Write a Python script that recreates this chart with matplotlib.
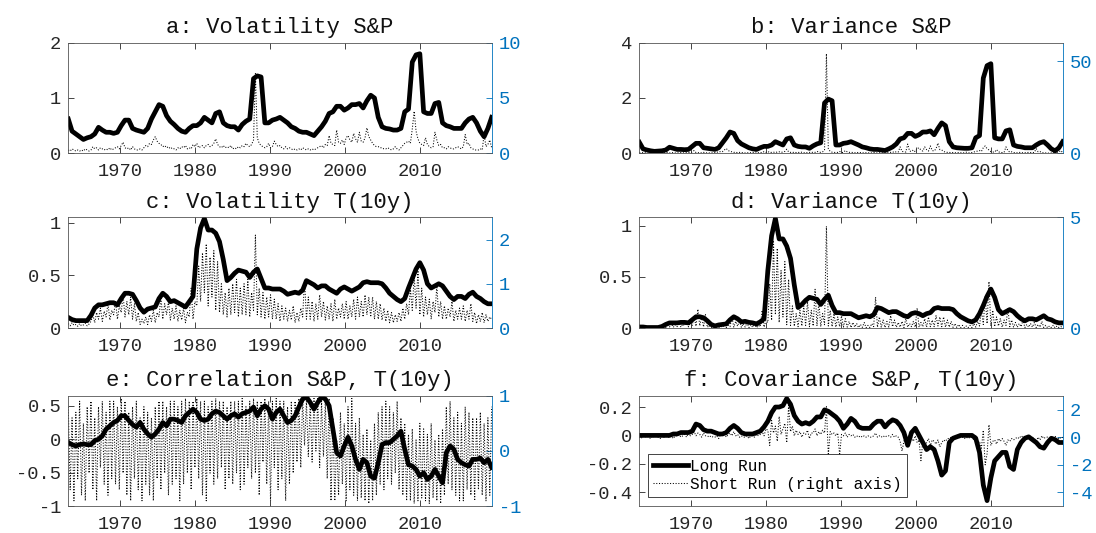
import numpy as np
import matplotlib
matplotlib.use('Agg')
import matplotlib.pyplot as plt
from matplotlib.ticker import FuncFormatter

plt.rcParams['font.family'] = ['Liberation Mono', 'DejaVu Sans Mono']
plt.rcParams['axes.unicode_minus'] = False

# sample range (years)
t_start, t_end = 1963.1, 2019.6

# ---- a: Volatility S&P (long run: 2 per year, short run: 4 per year) ----
a_long = [
    0.62, 0.40, 0.35, 0.30, 0.25, 0.28, 0.30, 0.35, 0.47, 0.42, 0.38, 0.38, 0.36, 0.38,
    0.50, 0.60, 0.60, 0.45, 0.42, 0.40, 0.38, 0.45, 0.62, 0.75, 0.88, 0.85, 0.68, 0.58,
    0.52, 0.45, 0.40, 0.38, 0.45, 0.50,
    0.50, 0.55, 0.65, 0.60, 0.55, 0.72, 0.75, 0.55, 0.50, 0.48, 0.48, 0.42, 0.52, 0.58,
    0.62, 1.35, 1.40, 1.38, 0.55, 0.55,
    0.60, 0.62, 0.65, 0.60, 0.55, 0.48, 0.45, 0.40, 0.38, 0.38, 0.35, 0.32, 0.40, 0.48,
    0.58, 0.72, 0.75, 0.85, 0.85, 0.78,
    0.82, 0.88, 0.88, 0.90, 0.82, 0.95, 1.05, 1.00, 0.65, 0.48, 0.45, 0.44, 0.42, 0.42,
    0.45, 0.75, 0.80, 1.65, 1.78, 1.80,
    0.75, 0.72, 0.72, 0.90, 0.92, 0.55, 0.50, 0.48, 0.45, 0.45, 0.45, 0.55, 0.62, 0.65,
    0.55, 0.40, 0.30, 0.45, 0.65,
]
a_short = [
    0.3, 0.2, 0.4, 0.3, 0.2, 0.3, 0.2, 0.3, 0.2, 0.4, 0.3, 0.2, 0.3, 0.6, 0.4, 0.5,
    0.3, 0.5, 0.4, 0.3, 0.4, 0.3, 0.5, 0.3, 0.4, 0.5, 0.6, 0.4,
    0.7, 1.0, 0.5, 0.4, 0.5, 0.3, 0.6, 0.4, 0.3, 0.3, 0.4, 0.3, 0.5, 0.7, 0.6, 0.9,
    0.8, 1.2, 1.5, 1.1, 0.9, 0.8, 0.6, 0.7, 0.5, 0.6, 0.4, 0.5, 0.4, 0.3, 0.5, 0.4,
    0.6, 0.5, 0.7, 0.4, 0.5, 0.4, 0.8, 0.6,
    0.9, 0.5, 0.6, 0.7, 0.5, 0.7, 0.8, 0.6, 0.7, 0.9, 1.3, 0.8, 0.6, 0.5, 0.7, 0.5,
    0.6, 0.5, 0.7, 0.4, 0.5, 0.4, 0.6, 0.5, 0.7, 0.6, 0.9, 0.7, 0.6, 0.8, 1.2, 7.2,
    1.4, 0.9, 0.7, 0.6, 0.5, 0.6, 0.9, 0.5,
    0.6, 1.1, 0.8, 0.6, 0.7, 0.5, 0.4, 0.6, 0.4, 0.5, 0.4, 0.3, 0.4, 0.3, 0.4, 0.3,
    0.5, 0.4, 0.3, 0.4, 0.3, 0.4, 0.3, 0.4, 0.5, 0.6, 0.7, 0.5, 0.8, 0.7, 1.6, 0.9,
    0.8, 0.7, 2.1, 1.0, 0.9, 1.2, 0.8, 1.4,
    1.6, 1.2, 1.0, 1.8, 1.3, 1.0, 1.9, 1.1, 1.0, 1.4, 2.3, 1.5, 1.2, 0.9, 0.7, 0.6,
    0.6, 0.5, 0.5, 0.4, 0.4, 0.5, 0.4, 0.3, 0.4, 0.6, 0.4, 0.3, 0.5, 0.7, 0.9, 1.0,
    1.1, 0.9, 2.2, 3.8, 2.0, 1.3, 0.9, 0.8,
    0.7, 1.4, 0.8, 0.6, 0.5, 0.6, 1.9, 1.2, 0.7, 0.8, 0.5, 0.5, 0.4, 0.6, 0.5, 0.4,
    0.4, 0.5, 0.6, 0.5, 0.4, 0.6, 1.7, 0.8, 0.9, 0.5, 0.4, 0.3, 0.3, 0.3, 0.4, 0.3,
    1.7, 0.6, 0.8, 1.2, 0.5,
]

# ---- b: Variance S&P ----
b_long = [
    0.40, 0.16, 0.12, 0.09, 0.07, 0.08, 0.09, 0.12, 0.22, 0.18, 0.14, 0.14, 0.13, 0.14,
    0.25, 0.36, 0.36, 0.20, 0.18, 0.16, 0.14, 0.20, 0.38, 0.56, 0.77, 0.72, 0.46, 0.34,
    0.27, 0.20, 0.16, 0.14, 0.20, 0.25,
    0.25, 0.30, 0.42, 0.36, 0.30, 0.52, 0.56, 0.30, 0.25, 0.23, 0.23, 0.18, 0.27, 0.34,
    0.38, 1.82, 1.96, 1.90, 0.30, 0.30,
    0.36, 0.38, 0.42, 0.36, 0.30, 0.23, 0.20, 0.16, 0.14, 0.14, 0.12, 0.10, 0.16, 0.23,
    0.34, 0.52, 0.56, 0.72, 0.72, 0.61,
    0.67, 0.77, 0.77, 0.81, 0.67, 0.90, 1.10, 1.00, 0.42, 0.23, 0.20, 0.19, 0.18, 0.18,
    0.20, 0.56, 0.64, 2.72, 3.17, 3.24,
    0.56, 0.52, 0.52, 0.81, 0.85, 0.30, 0.25, 0.23, 0.20, 0.20, 0.20, 0.30, 0.38, 0.42,
    0.30, 0.16, 0.09, 0.20, 0.42,
]
b_short = [
    0.3, 0.2, 0.4, 0.3, 0.2, 0.2, 0.1, 0.2, 0.1, 0.2, 0.2, 0.1, 0.2, 0.6, 0.3, 0.4,
    0.2, 0.4, 0.3, 0.2, 0.3, 0.2, 0.4, 0.2, 0.3, 0.4, 0.5, 0.3,
    0.7, 1.5, 0.4, 0.3, 0.4, 0.2, 0.5, 0.3, 0.2, 0.2, 0.3, 0.2, 0.4, 0.7, 0.5, 1.0,
    0.9, 1.8, 2.6, 1.5, 1.0, 0.8, 0.5, 0.6, 0.3, 0.5, 0.3, 0.4, 0.2, 0.2, 0.4, 0.3,
    0.5, 0.4, 0.8, 0.3, 0.4, 0.3, 0.9, 0.5,
    1.0, 0.4, 0.5, 0.6, 0.4, 0.7, 0.8, 0.5, 0.7, 1.0, 2.2, 0.8, 0.5, 0.4, 0.6, 0.4,
    0.5, 0.4, 0.6, 0.3, 0.4, 0.3, 0.5, 0.4, 0.6, 0.5, 1.0, 0.7, 0.5, 0.8, 1.8, 54.0,
    2.5, 1.0, 0.6, 0.5, 0.4, 0.5, 1.0, 0.4,
    0.5, 1.5, 0.8, 0.5, 0.6, 0.4, 0.3, 0.5, 0.3, 0.4, 0.3, 0.2, 0.3, 0.2, 0.3, 0.2,
    0.4, 0.3, 0.2, 0.3, 0.2, 0.3, 0.2, 0.3, 0.4, 0.5, 0.8, 0.4, 0.9, 0.7, 3.5, 1.0,
    0.8, 0.7, 5.0, 1.2, 1.0, 1.8, 0.8, 2.5,
    3.0, 1.8, 1.2, 3.5, 2.0, 1.2, 4.0, 1.5, 1.2, 2.5, 5.5, 2.0, 1.8, 1.0, 0.6, 0.5,
    0.5, 0.3, 0.4, 0.3, 0.3, 0.4, 0.3, 0.2, 0.3, 0.6, 0.3, 0.2, 0.4, 0.7, 1.0, 1.2,
    1.5, 1.0, 3.0, 4.0, 2.5, 1.8, 0.9, 0.7,
    0.6, 2.0, 0.8, 0.5, 0.4, 0.5, 3.5, 1.5, 0.6, 0.8, 0.4, 0.3, 0.3, 0.5, 0.3, 0.3,
    0.3, 0.4, 0.5, 0.4, 0.3, 0.5, 2.5, 0.8, 0.9, 0.4, 0.2, 0.2, 0.1, 0.1, 0.2, 0.2,
    2.5, 0.5, 0.8, 1.5, 0.4,
]

# ---- c: Volatility T(10y) ----
c_long = [
    0.10, 0.08, 0.07, 0.07, 0.07, 0.07, 0.12, 0.19, 0.22, 0.22, 0.23, 0.24, 0.24, 0.22,
    0.28, 0.33, 0.33, 0.32, 0.26, 0.19, 0.15, 0.18, 0.19, 0.20, 0.28, 0.33, 0.30, 0.25,
    0.26, 0.24, 0.22, 0.20, 0.25, 0.30,
    0.75, 0.95, 1.04, 0.93, 0.93, 0.90, 0.82, 0.65, 0.45, 0.48, 0.52, 0.55, 0.54, 0.53,
    0.48, 0.53, 0.56, 0.47, 0.38, 0.38,
    0.37, 0.37, 0.37, 0.35, 0.32, 0.33, 0.34, 0.33, 0.36, 0.45, 0.43, 0.41, 0.38, 0.40,
    0.40, 0.37, 0.35, 0.33, 0.37, 0.39,
    0.37, 0.35, 0.37, 0.39, 0.43, 0.44, 0.43, 0.43, 0.43, 0.42, 0.38, 0.33, 0.30, 0.27,
    0.25, 0.28, 0.38, 0.47, 0.56, 0.62,
    0.55, 0.42, 0.38, 0.40, 0.42, 0.40, 0.35, 0.30, 0.27, 0.30, 0.30, 0.28, 0.32, 0.34,
    0.30, 0.28, 0.25, 0.23, 0.23,
]
c_short = [
    0.10, 0.05, 0.12, 0.06, 0.08, 0.04, 0.10, 0.05, 0.07, 0.11, 0.05, 0.09,
    0.15, 0.30, 0.12, 0.35, 0.20, 0.45, 0.15, 0.38, 0.25, 0.55, 0.18, 0.40,
    0.30, 0.60, 0.20, 0.50,
    0.35, 0.75, 0.25, 0.60, 0.30, 0.70, 0.20, 0.55, 0.15, 0.35, 0.08, 0.20,
    0.10, 0.25, 0.08, 0.30, 0.15, 0.40, 0.12, 0.35, 0.25, 0.70, 0.20, 0.55,
    0.30, 0.60, 0.18, 0.45, 0.20, 0.50, 0.15, 0.40, 0.18, 0.45, 0.12, 0.35,
    0.25, 0.90, 0.20, 0.60,
    0.50, 1.40, 0.60, 1.70, 0.80, 1.90, 0.50, 1.60, 0.70, 1.75, 0.40, 1.50,
    0.35, 1.00, 0.30, 0.80, 0.25, 0.90, 0.30, 1.00, 0.35, 1.10, 0.25, 0.90,
    0.30, 1.00, 0.30, 1.10, 0.25, 0.80, 0.40, 2.10, 0.30, 0.90, 0.25, 0.80,
    0.20, 0.70, 0.25, 0.75,
    0.20, 0.65, 0.20, 0.55, 0.15, 0.50, 0.20, 0.45, 0.15, 0.40, 0.18, 0.50,
    0.12, 0.35, 0.15, 0.45, 0.25, 1.10, 0.20, 0.70, 0.20, 0.60, 0.15, 0.55,
    0.20, 0.75, 0.25, 0.60, 0.18, 0.50, 0.20, 0.55, 0.15, 0.65, 0.20, 0.45,
    0.25, 0.55, 0.20, 0.60,
    0.20, 0.50, 0.25, 0.65, 0.20, 0.70, 0.25, 0.60, 0.25, 0.75, 0.30, 0.70,
    0.25, 0.70, 0.20, 0.60, 0.20, 0.55, 0.18, 0.45, 0.15, 0.40, 0.12, 0.35,
    0.12, 0.30, 0.15, 0.35, 0.15, 0.45, 0.20, 0.55, 0.30, 0.90, 0.40, 1.20,
    0.45, 1.30, 0.30, 0.90,
    0.25, 0.70, 0.30, 0.65, 0.20, 0.60, 0.35, 0.95, 0.25, 0.60, 0.20, 0.50,
    0.20, 0.45, 0.25, 0.60, 0.15, 0.40, 0.20, 0.45, 0.20, 0.50, 0.15, 0.40,
    0.20, 0.55, 0.15, 0.35, 0.10, 0.30, 0.15, 0.35, 0.12, 0.30, 0.15, 0.25,
    0.20,
]

# ---- d: Variance T(10y) ----
d_long = [
    0.010, 0.010, 0.005, 0.005, 0.005, 0.005, 0.015, 0.035, 0.050, 0.050, 0.050, 0.055,
    0.055, 0.050,
    0.08, 0.11, 0.11, 0.10, 0.07, 0.035, 0.02, 0.03, 0.035, 0.04, 0.08, 0.11, 0.09, 0.06,
    0.065, 0.055, 0.05, 0.04, 0.06, 0.09,
    0.56, 0.90, 1.07, 0.87, 0.87, 0.80, 0.68, 0.42, 0.20, 0.23, 0.27, 0.30, 0.29, 0.28,
    0.23, 0.28, 0.32, 0.22, 0.15, 0.15,
    0.14, 0.14, 0.14, 0.12, 0.10, 0.11, 0.12, 0.11, 0.13, 0.20, 0.19, 0.17, 0.15, 0.16,
    0.16, 0.14, 0.12, 0.11, 0.14, 0.15,
    0.14, 0.12, 0.14, 0.15, 0.19, 0.20, 0.19, 0.19, 0.19, 0.18, 0.14, 0.11, 0.09, 0.07,
    0.06, 0.08, 0.14, 0.22, 0.31, 0.38,
    0.30, 0.18, 0.14, 0.16, 0.18, 0.16, 0.12, 0.09, 0.07, 0.09, 0.09, 0.08, 0.10, 0.12,
    0.09, 0.08, 0.06, 0.05, 0.05,
]
d_short = [
    0.01, 0.00, 0.02, 0.01, 0.01, 0.00, 0.01, 0.00, 0.01, 0.02, 0.00, 0.01,
    0.03, 0.10, 0.02, 0.12, 0.05, 0.20, 0.03, 0.15, 0.06, 0.30, 0.04, 0.18,
    0.10, 0.35, 0.05, 0.25,
    0.12, 0.55, 0.08, 0.85, 0.10, 0.50, 0.05, 0.60, 0.03, 0.12, 0.01, 0.04,
    0.01, 0.06, 0.01, 0.08, 0.03, 0.15, 0.02, 0.12, 0.06, 0.50, 0.04, 0.30,
    0.08, 0.35, 0.03, 0.20, 0.04, 0.25, 0.02, 0.15, 0.03, 0.20, 0.01, 0.12,
    0.06, 0.80, 0.04, 0.35,
    0.25, 2.00, 0.35, 3.90, 0.60, 3.60, 0.25, 2.60, 0.50, 3.00, 0.15, 2.20,
    0.12, 1.00, 0.08, 0.65, 0.06, 0.80, 0.09, 1.00, 0.12, 1.20, 0.06, 0.80,
    0.09, 1.75, 0.09, 1.20, 0.06, 0.65, 0.15, 4.60, 0.09, 0.80, 0.06, 0.65,
    0.04, 0.50, 0.06, 0.55,
    0.04, 0.42, 0.04, 0.30, 0.02, 0.25, 0.04, 0.20, 0.02, 0.16, 0.03, 0.25,
    0.01, 0.12, 0.02, 0.20, 0.06, 1.40, 0.04, 0.50, 0.04, 0.36, 0.02, 0.30,
    0.04, 0.56, 0.06, 0.36, 0.03, 0.25, 0.04, 0.30, 0.02, 0.42, 0.04, 0.20,
    0.06, 0.30, 0.04, 0.90,
    0.04, 0.25, 0.06, 0.42, 0.04, 0.50, 0.06, 0.36, 0.06, 0.56, 0.09, 0.50,
    0.06, 0.50, 0.04, 0.36, 0.04, 0.30, 0.03, 0.20, 0.02, 0.16, 0.01, 0.12,
    0.01, 0.09, 0.02, 0.12, 0.02, 0.20, 0.04, 0.30, 0.09, 0.80, 0.16, 1.45,
    0.20, 2.10, 0.09, 0.80,
    0.06, 0.50, 0.09, 0.42, 0.04, 0.36, 0.12, 0.90, 0.06, 0.36, 0.04, 0.25,
    0.04, 0.20, 0.06, 0.36, 0.02, 0.16, 0.04, 0.20, 0.04, 0.25, 0.02, 0.16,
    0.04, 0.30, 0.02, 0.12, 0.01, 0.09, 0.02, 0.12, 0.01, 0.09, 0.02, 0.06,
    0.04,
]

# ---- e: Correlation S&P, T(10y) ----
e_long = [
    -0.05, -0.08, -0.10, -0.08, -0.07, -0.08, -0.08, -0.02, 0.00, 0.05, 0.15, 0.20,
    0.25, 0.28,
    0.35, 0.35, 0.28, 0.22, 0.18, 0.25, 0.15, 0.08, 0.03, 0.08, 0.15, 0.25, 0.20, 0.30,
    0.30, 0.28, 0.25, 0.35, 0.40, 0.45,
    0.40, 0.30, 0.28, 0.30, 0.38, 0.42, 0.40, 0.35, 0.30, 0.35, 0.38, 0.33, 0.38, 0.40,
    0.42, 0.48, 0.35, 0.45, 0.50, 0.45,
    0.30, 0.40, 0.45, 0.35, 0.25, 0.28, 0.35, 0.48, 0.60, 0.63, 0.55, 0.45, 0.55, 0.63,
    0.60, 0.50, 0.15, -0.20, -0.25, -0.10,
    0.03, -0.10, -0.30, -0.45, -0.30, -0.35, -0.55, -0.58, -0.35, -0.08, -0.05, -0.05,
    0.00, 0.05, 0.12, -0.15, -0.38, -0.40, -0.45, -0.55,
    -0.50, -0.60, -0.55, -0.45, -0.55, -0.65, -0.20, -0.10, -0.15, -0.30, -0.35, -0.38,
    -0.40, -0.30, -0.30, -0.28, -0.35, -0.30, -0.42,
]
e_short = [
    0.8, -0.7, 0.6, -0.9, 0.7, -0.5, 0.9, -0.8, 0.5, -0.9, 0.8, -0.4,
    0.9, -0.7, 0.6, -0.9, 0.8, -0.3, 0.9, -0.6, 0.7, -0.8, 0.9, -0.5,
    0.9, -0.6, 0.8, -0.7,
    0.95, -0.4, 0.9, -0.8, 0.7, -0.9, 0.8, -0.5, 0.9, -0.7, 0.6, -0.9,
    0.8, -0.6, 0.7, -0.8, 0.6, -0.9, 0.8, -0.5, 0.9, -0.7, 0.9, -0.4,
    0.8, -0.8, 0.9, -0.6, 0.9, -0.5, 0.8, -0.9, 0.9, -0.6, 0.95, -0.4,
    0.9, -0.7, 0.9, -0.3,
    0.95, -0.5, 0.9, -0.8, 0.9, -0.9, 0.8, -0.4, 0.9, -0.6, 0.95, -0.5,
    0.9, -0.3, 0.9, -0.7, 0.8, -0.5, 0.9, -0.6, 0.9, -0.4, 0.9, -0.7,
    0.95, -0.6, 0.8, -0.3, 0.9, -0.5, 0.95, -0.4, 0.9, -0.8, 0.9, -0.2,
    0.95, -0.6, 0.9, -0.9,
    0.9, -0.3, 0.95, -0.7, 0.9, -0.5, 0.9, -0.9, 0.8, -0.6, 0.9, -0.4,
    0.9, -0.2, 0.95, -0.3, 0.95, 0.1, 0.9, -0.1, 0.9, -0.2, 0.95, 0.0,
    0.95, -0.3, 0.9, -0.1, 0.9, -0.5, 0.95, -0.9, 0.6, -0.9, 0.2, -0.8,
    0.7, -0.6, 0.5, -0.9,
    0.8, -0.7, 0.95, -0.8, 0.5, -0.9, 0.6, -0.85, 0.3, -0.9, 0.4, -0.95,
    0.2, -0.9, 0.5, -0.8, 0.7, -0.6, 0.8, -0.7, 0.9, -0.5, 0.8, -0.6,
    0.7, -0.4, 0.9, -0.7, 0.6, -0.8, 0.5, -0.9, 0.3, -0.9, 0.4, -0.95,
    0.2, -0.9, 0.5, -0.85,
    0.4, -0.9, 0.3, -0.95, 0.5, -0.85, 0.2, -0.9, 0.3, -0.95, 0.4, -0.8,
    0.8, -0.6, 0.9, -0.7, 0.6, -0.8, 0.7, -0.9, 0.5, -0.9, 0.8, -0.7,
    0.7, -0.8, 0.6, -0.9, 0.6, -0.7, 0.7, -0.8, 0.5, -0.9, 0.6, -0.8,
    0.8,
]

# ---- f: Covariance S&P, T(10y) ----
f_long = [
    0.00, 0.00, 0.00, 0.00, 0.00, 0.00, 0.00, 0.00, 0.00, 0.01, 0.01, 0.02, 0.02, 0.02,
    0.03, 0.08, 0.07, 0.04, 0.03, 0.03, 0.02, 0.01, 0.01, 0.02, 0.05, 0.07, 0.05, 0.02,
    0.01, 0.01, 0.01, 0.02, 0.03, 0.06,
    0.10, 0.16, 0.20, 0.20, 0.21, 0.26, 0.22, 0.14, 0.10, 0.08, 0.09, 0.08, 0.10, 0.13,
    0.13, 0.18, 0.17, 0.15, 0.13, 0.10,
    0.05, 0.08, 0.12, 0.10, 0.06, 0.05, 0.05, 0.05, 0.08, 0.10, 0.10, 0.06, 0.09, 0.11,
    0.10, 0.07, 0.02, -0.07, 0.02, 0.05,
    0.00, -0.05, -0.10, -0.08, -0.10, -0.18, -0.28, -0.25, -0.05, -0.02, -0.01, 0.00,
    0.00, 0.00, 0.00, -0.02, -0.12, -0.35, -0.46, -0.30,
    -0.18, -0.15, -0.12, -0.12, -0.22, -0.24, -0.10, -0.05, -0.02, -0.01, -0.03, -0.05,
    -0.08, -0.09, -0.05, -0.02, -0.03, -0.05, -0.05,
]
f_short = [
    0.0, -0.1, 0.1, 0.0, 0.1, 0.0, -0.1, 0.1, 0.0, 0.1, 0.0, -0.1,
    0.1, 0.0, 0.1, 0.0, 0.0, 0.1, -0.1, 0.1, 0.1, 0.2, 0.0, 0.1,
    0.2, 0.0, 0.3, 0.1,
    0.2, 0.4, 0.1, 0.3, 0.2, 0.0, 0.3, 0.1, 0.1, 0.0, 0.1, 0.0,
    0.0, 0.1, -0.1, 0.2, 0.1, 0.3, 0.0, 0.2, 0.3, 0.1, 0.4, 0.1,
    0.2, 0.0, 0.1, 0.0, 0.0, 0.1, -0.1, 0.1, 0.1, 0.0, 0.2, 0.1,
    0.2, 0.4, 0.1, 0.6,
    0.5, -0.6, 1.2, 0.3, 0.8, -0.3, 1.5, 0.2, 0.6, 1.0, -0.4, 2.3,
    0.4, 0.8, 0.1, 0.5, 0.2, 0.4, 0.0, 0.3, 0.2, 0.5, -0.1, 0.3,
    0.3, 0.6, 0.1, 0.4, 0.2, 0.5, 0.3, 2.2, -1.3, 0.4, 0.2, 0.3,
    0.1, 0.3, -1.3, 0.2,
    0.1, 0.3, 0.0, 0.2, 0.1, 0.2, 0.0, 0.1, 0.0, 0.1, 0.0, 0.1,
    0.0, 0.1, 0.0, 0.0, 0.1, 0.3, 0.0, 0.1, 0.0, 0.1, 0.0, 0.1,
    0.1, 0.0, 0.2, 0.0, 0.1, 0.0, -0.3, -1.0, -0.3, 0.1, -0.5, -0.2,
    0.0, -0.3, 0.1, -0.4,
    -0.2, -1.7, -0.3, -0.5, -0.4, -0.1, -0.6, -0.2, -0.3, -0.5, -0.2, -0.7,
    -0.4, -0.2, -0.3, -0.1, -0.1, 0.0, -0.1, 0.0, 0.0, -0.1, 0.0, 0.0,
    -0.1, 0.0, -0.1, 0.0, 0.0, -0.2, 0.1, -0.4, -0.3, -0.8, 0.5, -2.0,
    -1.2, 0.9, -0.6, -0.3,
    -0.2, -0.5, -0.1, -0.3, -0.1, -0.3, -0.6, -0.2, -0.3, -0.1, -0.2, -0.1,
    0.0, -0.1, 0.1, 0.0, -0.1, 0.0, 0.1, -0.2, 0.0, -0.1, -0.3, 0.0,
    -0.2, 0.1, -0.1, 0.0, 0.0, -0.1, 0.0, -0.2, 0.1, -0.3, 0.0, -0.1,
    0.0,
]

titles = ['a: Volatility S&P', 'b: Variance S&P', 'c: Volatility T(10y)',
          'd: Variance T(10y)', 'e: Correlation S&P, T(10y)', 'f: Covariance S&P, T(10y)']

grey = '#262626'
blue = '#0072BD'
plain = FuncFormatter(lambda v, p: '%g' % v)

fig = plt.figure(figsize=(10.96, 5.33), dpi=100)

# axes boxes in figure fractions [left, bottom, width, height]
col_x = [0.0623, 0.5833]
row_y = [0.7124, 0.3846, 0.0501]
w, h = 0.3863, 0.2075


def draw_panel(pos, title, long_vals, short_vals, ylim_l, yt_l, ylim_r, yt_r):
    ax = fig.add_axes(pos)
    ax2 = ax.twinx()
    # long run on top of the short-run cloud
    ax.set_zorder(ax2.get_zorder() + 1)
    ax.patch.set_visible(False)

    t_l = np.linspace(t_start, t_end, len(long_vals))
    t_s = np.linspace(t_start, t_end, len(short_vals))
    l1, = ax.plot(t_l, long_vals, color='k', lw=3.4)
    l2, = ax2.plot(t_s, short_vals, color='k', lw=0.75, ls=':')

    ax.set_xlim(t_start, t_end)
    ax.set_ylim(*ylim_l)
    ax.set_yticks(yt_l)
    ax.set_xticks([1970, 1980, 1990, 2000, 2010])
    ax2.set_ylim(*ylim_r)
    ax2.set_yticks(yt_r)
    ax.yaxis.set_major_formatter(plain)
    ax2.yaxis.set_major_formatter(plain)

    ax.tick_params(axis='both', direction='in', top=True, length=4, width=0.6,
                   color=grey, labelcolor=grey, labelsize=13.5)
    ax.tick_params(axis='x', pad=7)
    ax.tick_params(axis='y', pad=5, right=False)
    ax2.tick_params(axis='y', direction='in', length=4, width=0.6, colors=blue,
                    labelsize=13.5, pad=5)
    for s in ['left', 'top', 'bottom']:
        ax.spines[s].set_color('#555555')
        ax.spines[s].set_linewidth(0.6)
        ax2.spines[s].set_visible(False)
    ax.spines['right'].set_visible(False)
    ax2.spines['right'].set_color(blue)
    ax2.spines['right'].set_linewidth(0.6)

    ax.set_title(title, fontsize=16, pad=7, color='#111111')
    return ax, ax2, l1, l2


draw_panel([col_x[0], row_y[0], w, h], titles[0], a_long, a_short,
           (0, 2), [0, 1, 2], (0, 10), [0, 5, 10])
draw_panel([col_x[1], row_y[0], w, h], titles[1], b_long, b_short,
           (0, 4), [0, 2, 4], (0, 60), [0, 50])
draw_panel([col_x[0], row_y[1], w, h], titles[2], c_long, c_short,
           (0, 1.05), [0, 0.5, 1], (0, 2.5), [0, 1, 2])
draw_panel([col_x[1], row_y[1], w, h], titles[3], d_long, d_short,
           (0, 1.08), [0, 0.5, 1], (0, 5), [0, 5])
draw_panel([col_x[0], row_y[2], w, h], titles[4], e_long, e_short,
           (-1, 0.65), [-1, -0.5, 0, 0.5], (-1, 1), [-1, 0, 1])
ax, ax2, l1, l2 = draw_panel([col_x[1], row_y[2], w, h], titles[5], f_long, f_short,
                             (-0.5, 0.28), [-0.4, -0.2, 0, 0.2], (-5, 3), [-4, -2, 0, 2])

leg = ax.legend([l1, l2], ['Long Run', 'Short Run (right axis)'], loc='lower left',
                bbox_to_anchor=(0.02, 0.086), borderaxespad=0, fontsize=11.5,
                fancybox=False, framealpha=1, edgecolor=grey, handlelength=2.2,
                handletextpad=0.15, borderpad=0.3, labelspacing=0.2)
leg.get_frame().set_linewidth(0.6)

plt.savefig('out.png', dpi=100)
